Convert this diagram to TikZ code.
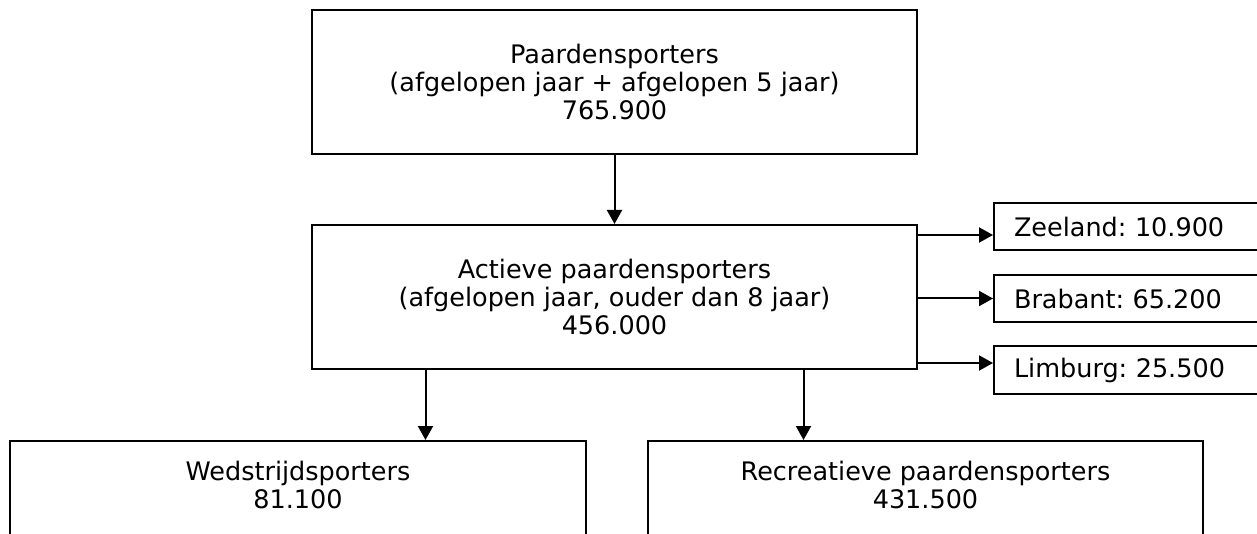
\documentclass[tikz,border=0pt]{standalone}
\usepackage{fontspec}
\setmainfont{DejaVu Sans}
\usetikzlibrary{arrows.meta}
\frenchspacing

\begin{document}
\begin{tikzpicture}[x=1pt,y=1pt,-,>={Triangle[length=14pt,width=15pt]},node distance=215pt,line width=2pt,
    main node/.style={draw,rectangle,align=center,font=\fontsize{25.5}{28}\selectfont},
    side node/.style={main node,anchor=west,minimum height=47pt,text width=270pt,align=left,inner xsep=20pt},
    low node/.style={main node,anchor=north,inner ysep=20pt,text depth=80pt}]
    \useasboundingbox (0,0) rectangle (1257,533);
    \clip (0,0) rectangle (1257,533);

    \node[main node,minimum width=605pt,minimum height=144pt] (1) at (614.5,451) {Paardensporters\\(afgelopen jaar + afgelopen 5 jaar)\\765.900};
    \node[main node,minimum width=605pt,minimum height=144pt] (2) [below of = 1] {Actieve paardensporters\\(afgelopen jaar, ouder dan 8 jaar)\\456.000};

    \node[side node] (3) at (993,306.5) {Zeeland: 10.900};
    \node[side node] (4) at (993,234.5) {Brabant: 65.200};
    \node[side node] (5) at (993,163) {Limburg: 25.500};

    \node[low node,minimum width=576pt] (6) at (298,93) {Wedstrijdsporters\\81.100};
    \node[low node,minimum width=555pt] (7) at (925.5,93) {Recreatieve paardensporters\\431.500};

    \coordinate (z) at ([yshift=-8.5pt]3.west);
    \coordinate (l) at ([yshift=7pt]5.west);

    \path[->]
        (1) edge (2)
        (2.east |- z) edge (z)
        (2.east |- 4.west) edge (4)
        (2.east |- l) edge (l)
        ([xshift=-189pt]2.south) edge ([xshift=-189pt]2.south |- 6.north)
        ([xshift=189pt]2.south) edge ([xshift=189pt]2.south |- 7.north)
    ;
\end{tikzpicture}
\end{document}
